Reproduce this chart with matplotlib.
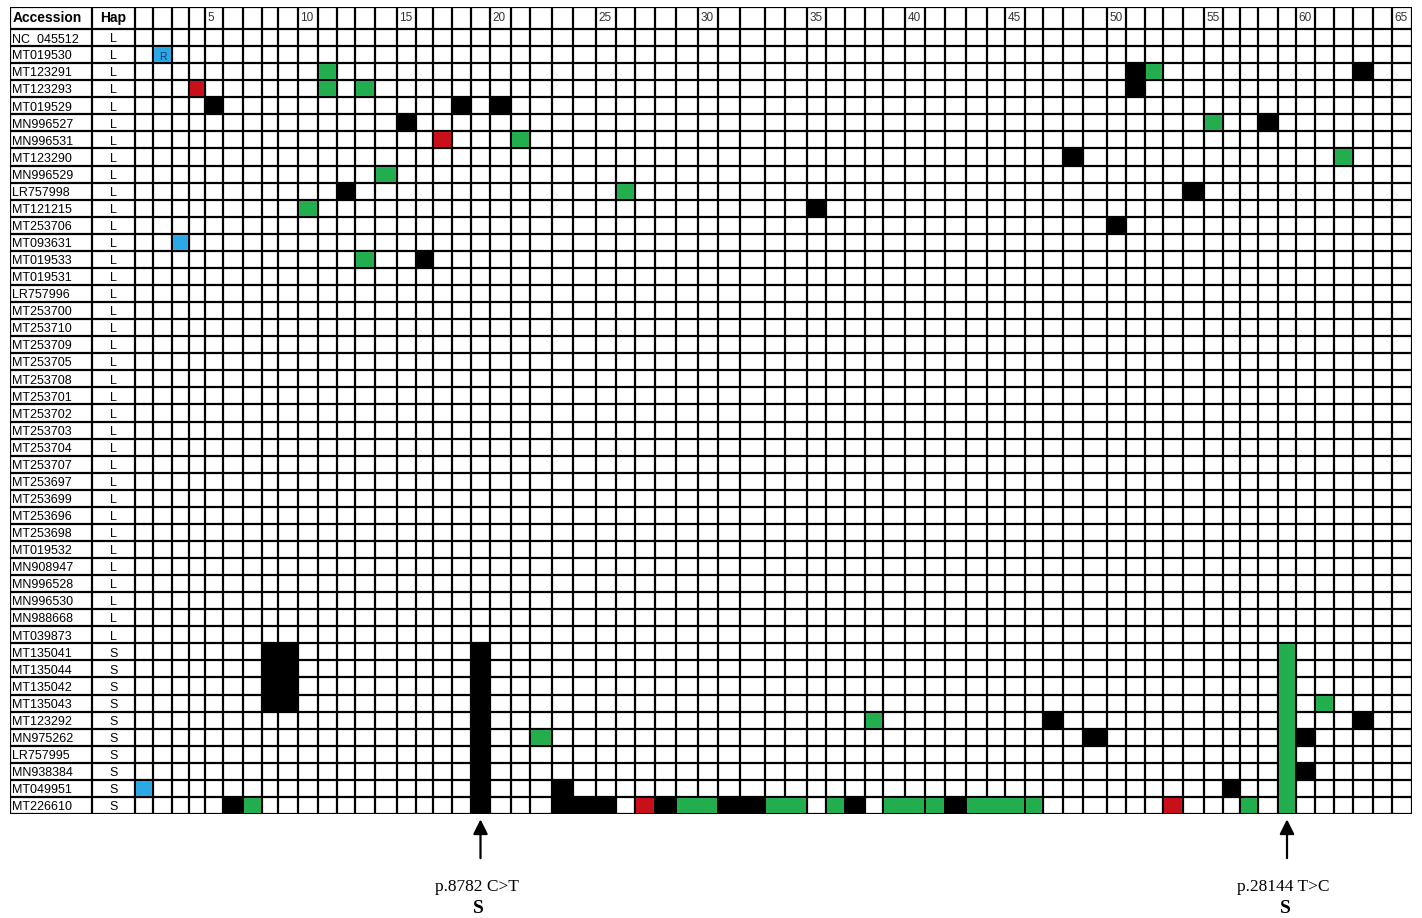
import matplotlib
matplotlib.use('Agg')
import matplotlib.pyplot as plt
from matplotlib.patches import Rectangle
import numpy as np

plt.rcParams['font.family'] = ['Liberation Sans', 'DejaVu Sans']

# ---- data -------------------------------------------------------------
accessions = ['NC_045512', 'MT019530', 'MT123291', 'MT123293', 'MT019529',
              'MN996527', 'MN996531', 'MT123290', 'MN996529', 'LR757998',
              'MT121215', 'MT253706', 'MT093631', 'MT019533', 'MT019531',
              'LR757996', 'MT253700', 'MT253710', 'MT253709', 'MT253705',
              'MT253708', 'MT253701', 'MT253702', 'MT253703', 'MT253704',
              'MT253707', 'MT253697', 'MT253699', 'MT253696', 'MT253698',
              'MT019532', 'MN908947', 'MN996528', 'MN996530', 'MN988668',
              'MT039873', 'MT135041', 'MT135044', 'MT135042', 'MT135043',
              'MT123292', 'MN975262', 'LR757995', 'MN938384', 'MT049951',
              'MT226610']
haps = ['L'] * 36 + ['S'] * 10
n_pos = 65
pos_ticks = list(range(5, 66, 5))

# spans: (first accession, last accession, first position, last position)
black_spans = [
    ('MT123291', 'MT123293', 51, 51), ('MT123291', 'MT123291', 63, 63),
    ('MT019529', 'MT019529', 5, 5), ('MT019529', 'MT019529', 18, 18),
    ('MT019529', 'MT019529', 20, 20), ('MN996527', 'MN996527', 15, 15),
    ('MN996527', 'MN996527', 58, 58), ('MT123290', 'MT123290', 48, 48),
    ('LR757998', 'LR757998', 12, 12), ('LR757998', 'LR757998', 54, 54),
    ('MT121215', 'MT121215', 35, 35), ('MT253706', 'MT253706', 50, 50),
    ('MT019533', 'MT019533', 16, 16), ('MT135041', 'MT135043', 8, 9),
    ('MT135041', 'MT226610', 19, 19), ('MT123292', 'MT123292', 47, 47),
    ('MT123292', 'MT123292', 63, 63), ('MN975262', 'MN975262', 49, 49),
    ('MN975262', 'MN975262', 60, 60), ('MN938384', 'MN938384', 60, 60),
    ('MT049951', 'MT049951', 56, 56), ('MT049951', 'MT226610', 23, 23),
    ('MT226610', 'MT226610', 23, 25), ('MT226610', 'MT226610', 6, 6),
    ('MT226610', 'MT226610', 28, 28), ('MT226610', 'MT226610', 31, 32),
    ('MT226610', 'MT226610', 37, 37), ('MT226610', 'MT226610', 42, 42),
]
green_spans = [
    ('MT123291', 'MT123291', 11, 11), ('MT123291', 'MT123291', 52, 52),
    ('MT123293', 'MT123293', 11, 11), ('MT123293', 'MT123293', 13, 13),
    ('MN996527', 'MN996527', 55, 55), ('MN996531', 'MN996531', 21, 21),
    ('MT123290', 'MT123290', 62, 62), ('MN996529', 'MN996529', 14, 14),
    ('LR757998', 'LR757998', 26, 26), ('MT121215', 'MT121215', 10, 10),
    ('MT019533', 'MT019533', 13, 13), ('MT123292', 'MT123292', 38, 38),
    ('MN975262', 'MN975262', 22, 22), ('MT135043', 'MT135043', 61, 61),
    ('MT135041', 'MT226610', 59, 59), ('MT226610', 'MT226610', 7, 7),
    ('MT226610', 'MT226610', 29, 30), ('MT226610', 'MT226610', 33, 34),
    ('MT226610', 'MT226610', 36, 36), ('MT226610', 'MT226610', 39, 40),
    ('MT226610', 'MT226610', 41, 41), ('MT226610', 'MT226610', 43, 45),
    ('MT226610', 'MT226610', 46, 46), ('MT226610', 'MT226610', 57, 57),
]
red_spans = [
    ('MT123293', 'MT123293', 4, 4), ('MN996531', 'MN996531', 17, 17),
    ('MT226610', 'MT226610', 27, 27), ('MT226610', 'MT226610', 53, 53),
]
blue_spans = [
    ('MT019530', 'MT019530', 2, 2), ('MT093631', 'MT093631', 3, 3),
    ('MT049951', 'MT049951', 1, 1),
]
blue_label = ('MT019530', 2, 'R')

markers = [(19, 'p.8782 C>T', 'S'), (59, 'p.28144 T>C', 'S')]

# ---- layout -----------------------------------------------------------
# left edges of the table columns in the scanned table (pixels), used as an
# x-scale so that unequal column widths are kept
edge_px = [10, 92, 135, 153, 172, 189, 205, 223, 243, 262, 278, 298, 318,
           337, 355, 375, 397, 416, 433, 452, 471, 490, 511, 530, 552, 573,
           596, 616, 635, 655, 676, 698, 718, 740, 765, 785, 807, 826, 845,
           865, 883, 905, 925, 945, 966, 987, 1005, 1025, 1043, 1063, 1083,
           1107, 1126, 1145, 1163, 1183, 1204, 1223, 1240, 1258, 1278, 1296,
           1315, 1334, 1353, 1373, 1392, 1412]
edge_idx = np.arange(-2, n_pos + 1)


def fwd(x):
    return np.interp(x, edge_idx, edge_px, left=-1e4, right=1e4)


def inv(x):
    return np.interp(x, edge_px, edge_idx, left=-1e4, right=1e4)


hdr = 1.29
n_rows = len(accessions)
row_of = {a: i for i, a in enumerate(accessions)}

colors = {'black': '#000000', 'green': '#22ad4e', 'red': '#c8101a',
          'blue': '#2aa9e6'}

fig = plt.figure(figsize=(14.22, 9.18), dpi=100)
ax = fig.add_axes([10 / 1422, 104 / 918, 1402 / 1422, 807 / 918])
ax.set_xscale('function', functions=(fwd, inv))
ax.set_xlim(-2, n_pos)
ax.set_ylim(n_rows, -hdr)
ax.axis('off')

lw = 1.6
ax.vlines(edge_idx, -hdr, n_rows, color='black', lw=lw, zorder=2)
ax.hlines(np.r_[-hdr, np.arange(0, n_rows + 1)], -2, n_pos, color='black',
          lw=lw, zorder=2)

inset = 0.06
for spans, key in [(black_spans, 'black'), (green_spans, 'green'),
                   (red_spans, 'red'), (blue_spans, 'blue')]:
    for a0, a1, p0, p1 in spans:
        r0, r1 = row_of[a0], row_of[a1]
        ax.add_patch(Rectangle((p0 - 1 + inset, r0 + inset),
                               p1 - p0 + 1 - 2 * inset,
                               r1 - r0 + 1 - 2 * inset,
                               facecolor=colors[key], edgecolor='none',
                               zorder=3))

a, p, s = blue_label
ax.text(p - 0.5, row_of[a] + 0.62, s, ha='center', va='center', fontsize=7.5,
        color='#1b3a6b', zorder=4)

# header
ax.text(-2 + 0.03, -hdr / 2, 'Accession', ha='left', va='center',
        fontsize=10, fontweight='bold')
ax.text(-0.5, -hdr / 2, 'Hap', ha='center', va='center', fontsize=10,
        fontweight='bold')
for k in pos_ticks:
    ax.text(k - 1 + 0.12, -hdr / 2, str(k), ha='left', va='center',
            fontsize=8.5, color='#333333')

for i, (acc, hp) in enumerate(zip(accessions, haps)):
    ax.text(-2 + 0.03, i + 0.6, acc, ha='left', va='center', fontsize=9)
    ax.text(-0.5, i + 0.6, hp, ha='center', va='center', fontsize=9)

for pos, lab, hp in markers:
    ax.annotate('', xy=(pos - 0.5, n_rows + 0.15), xytext=(pos - 0.5, n_rows + 2.75),
                arrowprops=dict(arrowstyle='-|>', color='black', lw=1.6,
                                mutation_scale=22),
                annotation_clip=False)
    ax.text(pos - 0.7, n_rows + 4.25, lab, ha='center', va='center',
            fontsize=12.5, family='Liberation Serif', clip_on=False)
    ax.text(pos - 0.6, n_rows + 5.55, hp, ha='center', va='center',
            fontsize=14, fontweight='bold', family='Liberation Serif',
            clip_on=False)

fig.savefig('out.png', dpi=100, facecolor='white')
